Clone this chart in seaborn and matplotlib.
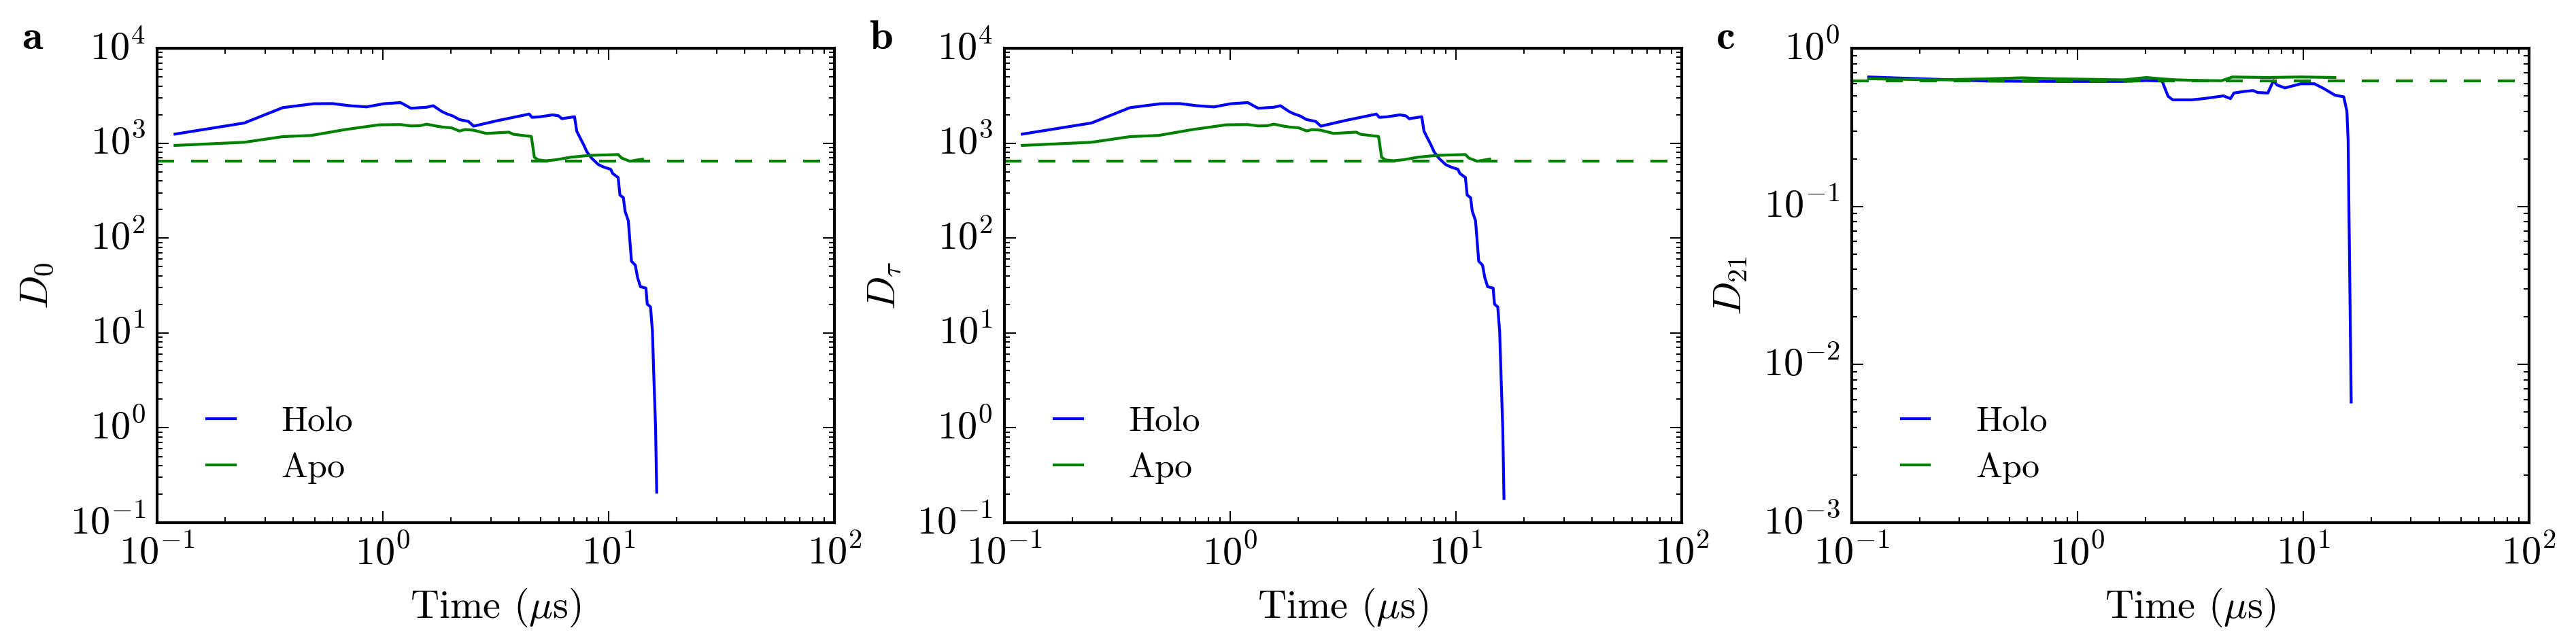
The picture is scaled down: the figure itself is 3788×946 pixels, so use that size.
import matplotlib
matplotlib.use("Agg")
import matplotlib.pyplot as plt
import seaborn as sns

# Holo trajectory (panels a and b share the time axis)
time_holo = [0.12, 0.243, 0.36, 0.492, 0.598, 0.713, 0.847, 1.007, 1.197, 1.33,
             1.56, 1.67, 1.82, 1.92, 2.04, 2.18, 2.39, 2.52, 3.20, 4.44,
             4.57, 4.92, 5.65, 5.99, 6.20, 7.05, 7.21, 7.43, 7.73, 8.00,
             8.38, 8.98, 9.40, 10.2, 10.4, 11.0, 11.2, 11.6, 11.8, 12.2,
             12.6, 13.1, 13.4, 13.8, 14.6, 14.8, 15.3, 15.6, 15.8, 16.1, 16.3]
D0_holo = [1245, 1630, 2366, 2600, 2610, 2478, 2410, 2600, 2673, 2330,
           2390, 2478, 2158, 2032, 1932, 1770, 1694, 1510, 1722, 2024,
           1870, 1890, 1986, 1940, 1811, 1897, 1340, 1160, 966, 809,
           697, 596, 565, 529, 479, 434, 284, 266, 192, 152,
           57, 51.8, 38.6, 30.7, 29.7, 20.1, 18.8, 10.4, 3.9, 1.05, 0.21]
Dtau_holo = [1245, 1630, 2366, 2600, 2610, 2478, 2410, 2600, 2673, 2330,
             2390, 2478, 2158, 2032, 1932, 1770, 1694, 1510, 1722, 2024,
             1870, 1890, 1986, 1940, 1811, 1897, 1340, 1160, 966, 809,
             697, 596, 565, 529, 479, 434, 284, 266, 192, 152,
             57, 51.8, 38.6, 30.7, 29.7, 20.1, 18.8, 10.4, 3.9, 1.0, 0.18]

# Apo trajectory
time_apo = [0.12, 0.243, 0.36, 0.481, 0.681, 0.962, 1.197, 1.33, 1.457, 1.56,
            1.71, 1.84, 2.01, 2.18, 2.31, 2.51, 2.87, 3.61, 3.78, 4.54,
            4.68, 4.86, 5.27, 5.79, 6.80, 8.19, 9.40, 11.0, 11.4, 12.4, 14.1]
D0_apo = [946, 1021, 1171, 1205, 1390, 1560, 1570, 1517, 1525, 1585,
          1517, 1476, 1450, 1343, 1390, 1370, 1265, 1306, 1239, 1175,
          711, 666, 652, 666, 711, 743, 750, 758, 697, 644, 679]
Dtau_apo = D0_apo

# panel c
time_holo_c = [0.119, 0.238, 0.40, 0.80, 1.60, 2.02, 2.37, 2.52, 2.64, 3.21,
               3.61, 4.44, 4.76, 4.93, 5.47, 6.00, 6.28, 6.97, 7.38, 7.64,
               8.29, 9.75, 11.2, 12.3, 13.8, 15.1, 15.6, 15.8, 16.3]
D21_holo = [0.658, 0.636, 0.62, 0.617, 0.617, 0.625, 0.62, 0.497, 0.472, 0.472,
            0.48, 0.50, 0.48, 0.521, 0.533, 0.54, 0.525, 0.521, 0.625, 0.586,
            0.561, 0.596, 0.596, 0.557, 0.505, 0.493, 0.40, 0.26, 0.0058]
time_apo_c = [0.119, 0.238, 0.40, 0.566, 0.80, 1.60, 2.02, 2.37, 2.74, 3.61,
              4.34, 4.86, 6.89, 9.75, 13.8]
D21_apo = [0.641, 0.631, 0.64, 0.650, 0.641, 0.631, 0.653, 0.64, 0.631, 0.625,
           0.623, 0.658, 0.653, 0.658, 0.653]

# dashed reference levels (Apo)
ref_D0 = 650
ref_Dtau = 650
ref_D21 = 0.62

panels = [
    ("a", r"$D_0$", time_holo, D0_holo, time_apo, D0_apo, ref_D0, (1e-1, 1e4)),
    ("b", r"$D_\tau$", time_holo, Dtau_holo, time_apo, Dtau_apo, ref_Dtau, (1e-1, 1e4)),
    ("c", r"$D_{21}$", time_holo_c, D21_holo, time_apo_c, D21_apo, ref_D21, (1e-3, 1e0)),
]

plt.style.use("classic")
plt.rcParams["font.family"] = "serif"
plt.rcParams["font.serif"] = ["cmr10"]
plt.rcParams["mathtext.fontset"] = "cm"
plt.rcParams["axes.formatter.use_mathtext"] = True
plt.rcParams["axes.unicode_minus"] = False

fig, axes = plt.subplots(1, 3, figsize=(3788 / 300, 946 / 300), dpi=300)
fig.patch.set_facecolor("white")
fig.subplots_adjust(left=0.061, right=0.9818, bottom=0.187, top=0.925, wspace=0.2505)

for ax, (letter, ylab, th, yh, ta, ya, ref, ylim) in zip(axes, panels):
    ax.set_xscale("log")
    ax.set_yscale("log")
    sns.lineplot(x=th, y=yh, ax=ax, color="b", lw=1.0, label="Holo", estimator=None)
    sns.lineplot(x=ta, y=ya, ax=ax, color="g", lw=1.0, label="Apo", estimator=None)
    ax.axhline(ref, color="g", ls="--", lw=1.0)
    ax.set_xlim(1e-1, 1e2)
    ax.set_ylim(*ylim)
    ax.set_xlabel(r"Time ($\mu$s)", fontsize=14)
    ax.set_ylabel(ylab, fontsize=14)
    ax.tick_params(labelsize=14)
    ax.legend(loc="lower left", frameon=False, fontsize=12.5, handlelength=1.4,
              handletextpad=1.0, labelspacing=0.4, borderaxespad=0.5, borderpad=0.6)
    pos = ax.get_position()
    fig.text(pos.x0 - 199 / 3788, pos.y1 - 1 / 946, letter, fontfamily="cmb10",
             fontsize=15, ha="left", va="baseline")

fig.savefig("out.png", dpi=300, facecolor="white")
